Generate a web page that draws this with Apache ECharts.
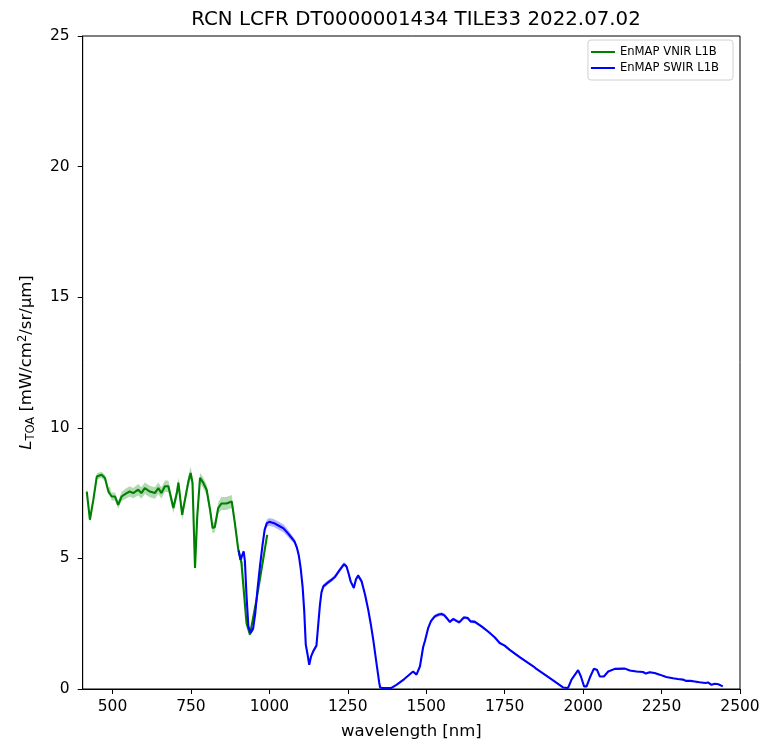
<!DOCTYPE html>
<html>
<head>
<meta charset="utf-8">
<script src="https://cdn.jsdelivr.net/npm/echarts@6/dist/echarts.min.js"></script>
<style>html,body{margin:0;padding:0;background:#fff}#c{width:763px;height:745px}</style>
</head>
<body>
<div id="c"></div>
<script>
// [wavelength nm, L_TOA, band half-width]
const vnir = [[418,7.56,0.12],[428,6.48,0.12],[439,7.25,0.12],[450,8.14,0.12],[465,8.2,0.12],[476,8.08,0.12],[487,7.56,0.12],[492,7.63,0.12],[497,7.37,0.15],[508,7.37,0.15],[518,7.05,0.15],[529,7.37,0.18],[545,7.5,0.2],[555,7.56,0.2],[566,7.5,0.2],[582,7.63,0.22],[592,7.5,0.22],[603,7.69,0.22],[619,7.56,0.22],[635,7.5,0.22],[646,7.69,0.22],[656,7.5,0.22],[667,7.76,0.22],[678,7.76,0.22],[694,6.93,0.2],[705,7.5,0.2],[710,7.9,0.2],[722,6.67,0.2],[731,7.25,0.2],[742,7.95,0.22],[749,8.27,0.25],[755,7.9,0.2],[763,4.63,0.12],[770,6.6,0.15],[779,8.08,0.2],[789,7.9,0.2],[800,7.63,0.2],[811,6.86,0.2],[819,6.16,0.2],[826,6.2,0.2],[837,6.93,0.22],[847,7.1,0.25],[863,7.1,0.25],[880,7.18,0.25],[890,6.35,0.15],[901,5.33,0.12],[911,4.82,0.12],[917,4.76,0.1],[927,2.53,0.08],[938,2.08,0.08],[959,3.42,0.08],[980,4.95,0.08],[993,5.9,0.08]];
const swir = [[902,5.3,0.08],[908,4.95,0.08],[913,5.0,0.08],[918,5.27,0.08],[922,4.9,0.08],[927,3.6,0.08],[933,2.4,0.08],[940,2.15,0.08],[948,2.3,0.08],[955,2.9,0.08],[962,3.8,0.1],[970,4.7,0.1],[978,5.5,0.1],[985,6.1,0.12],[992,6.35,0.14],[1000,6.4,0.15],[1015,6.35,0.15],[1030,6.25,0.15],[1045,6.15,0.15],[1060,5.95,0.14],[1070,5.8,0.12],[1080,5.65,0.1],[1088,5.4,0.1],[1094,5.1,0.1],[1100,4.6,0.08],[1106,3.9,0.08],[1111,3.0,0.06],[1116,1.7,0.06],[1122,1.3,0.05],[1127,0.93,0.05],[1133,1.25,0.05],[1140,1.45,0.05],[1150,1.66,0.05],[1156,2.5,0.06],[1161,3.2,0.06],[1166,3.7,0.08],[1172,3.93,0.08],[1187,4.08,0.08],[1200,4.2,0.08],[1209,4.29,0.08],[1225,4.57,0.08],[1238,4.78,0.08],[1246,4.69,0.08],[1253,4.4,0.08],[1259,4.12,0.08],[1269,3.87,0.08],[1276,4.2,0.08],[1283,4.34,0.08],[1294,4.12,0.08],[1305,3.61,0.07],[1315,3.04,0.06],[1323,2.5,0.05],[1331,1.89,0.05],[1342,0.93,0.04],[1350,0.25,0.03],[1353,0.06,0.02],[1360,0.04,0.02],[1389,0.04,0.02],[1405,0.16,0.02],[1430,0.38,0.03],[1458,0.67,0.03],[1469,0.55,0.03],[1480,0.87,0.04],[1490,1.6,0.05],[1496,1.85,0.06],[1506,2.33,0.06],[1515,2.6,0.07],[1527,2.78,0.07],[1540,2.85,0.07],[1549,2.87,0.07],[1558,2.82,0.07],[1565,2.72,0.07],[1575,2.57,0.06],[1586,2.68,0.06],[1595,2.62,0.06],[1605,2.55,0.06],[1620,2.74,0.06],[1632,2.72,0.06],[1641,2.59,0.06],[1655,2.57,0.06],[1676,2.4,0.05],[1697,2.2,0.05],[1718,1.98,0.05],[1734,1.76,0.05],[1750,1.66,0.04],[1766,1.5,0.04],[1800,1.2,0.04],[1841,0.87,0.03],[1850,0.78,0.03],[1894,0.42,0.03],[1936,0.06,0.02],[1952,0.04,0.02],[1963,0.36,0.02],[1984,0.72,0.03],[1993,0.48,0.02],[2003,0.1,0.02],[2011,0.1,0.02],[2023,0.48,0.02],[2034,0.77,0.03],[2044,0.74,0.03],[2053,0.48,0.02],[2066,0.48,0.02],[2080,0.67,0.03],[2101,0.77,0.03],[2133,0.78,0.03],[2149,0.71,0.03],[2170,0.67,0.03],[2191,0.65,0.03],[2200,0.59,0.03],[2212,0.64,0.03],[2228,0.61,0.03],[2244,0.55,0.03],[2265,0.46,0.02],[2286,0.41,0.02],[2302,0.38,0.02],[2318,0.36,0.02],[2329,0.31,0.02],[2342,0.31,0.02],[2356,0.29,0.02],[2361,0.23,0.02],[2371,0.26,0.02],[2390,0.23,0.02],[2398,0.25,0.02],[2409,0.16,0.02],[2420,0.2,0.02],[2431,0.18,0.02],[2445,0.1,0.02]];
const xTicks = [500,750,1000,1250,1500,1750,2000,2250,2500];
const titleText = 'RCN LCFR DT0000001434 TILE33 2022.07.02';
const seriesNames = ['EnMAP VNIR L1B','EnMAP SWIR L1B'];

const FONT = 'DejaVu Sans';
const chart = echarts.init(document.getElementById('c'), null, {renderer:'canvas'});

function bandSeries(data, color) {
  return {
    type:'custom', silent:true, z:1, clip:true,
    data:data.map(d=>[d[0], d[1]]),
    encode:{x:0, y:1},
    renderItem:function(params, api){
      if (params.dataIndex !== 0) return null;
      const upper = data.map(d=>api.coord([d[0], d[1]+d[2]]));
      const lower = data.slice().reverse().map(d=>api.coord([d[0], d[1]-d[2]]));
      return {type:'polygon', shape:{points:upper.concat(lower)}, style:{fill:color, opacity:0.3}};
    }
  };
}

const option = {
  animation:false,
  backgroundColor:'#fff',
  textStyle:{fontFamily:FONT},
  title:{text:titleText, left:411, top:5, textAlign:'center',
    textStyle:{fontFamily:FONT, fontSize:19.8, fontWeight:'normal', color:'#000'}},
  grid:{left:82.7, right:23, top:36, bottom:55.7, containLabel:false, show:true, borderColor:'#000', borderWidth:1, backgroundColor:'transparent'},
  legend:{
    data:[{name:seriesNames[0]},{name:seriesNames[1]}],
    orient:'vertical', right:30, top:40,
    icon:'rect', itemWidth:24, itemHeight:2, itemGap:2,
    padding:[5,14,5,3],
    borderColor:'#d0d0d0', borderWidth:1, borderRadius:3, backgroundColor:'#fff',
    textStyle:{fontFamily:FONT, fontSize:11.6, color:'#000', lineHeight:14}
  },
  xAxis:{
    type:'value', min:405, max:2500,
    name:'wavelength [nm]', nameLocation:'middle', nameGap:34,
    nameTextStyle:{fontFamily:FONT, fontSize:16.5, color:'#000'},
    axisLine:{show:true, lineStyle:{color:'#000', width:1}},
    axisTick:{show:true, inside:false, length:5, lineStyle:{color:'#000'}, customValues:xTicks},
    axisLabel:{show:true, margin:10, fontFamily:FONT, fontSize:15.5, color:'#000', customValues:xTicks, formatter:v=>String(v)},
    splitLine:{show:false}
  },
  yAxis:{
    type:'value', min:0, max:25, interval:5,
    name:'{i|L}{sub|TOA}{n| [mW/cm}{sup|2}{n|/sr/μm]}', nameLocation:'middle', nameGap:46, nameRotate:90,
    nameTextStyle:{fontFamily:FONT, fontSize:16.5, color:'#000',
      rich:{
        i:{fontFamily:FONT, fontSize:16.5, fontStyle:'italic', color:'#000', lineHeight:20, verticalAlign:'middle'},
        n:{fontFamily:FONT, fontSize:16.5, color:'#000', lineHeight:20, verticalAlign:'middle'},
        sub:{fontFamily:FONT, fontSize:11.5, color:'#000', lineHeight:20, verticalAlign:'bottom'},
        sup:{fontFamily:FONT, fontSize:11.5, color:'#000', lineHeight:20, verticalAlign:'top'}
      }},
    axisLine:{show:true, lineStyle:{color:'#000', width:1}},
    axisTick:{show:true, inside:false, length:5, lineStyle:{color:'#000'}},
    axisLabel:{show:true, margin:13, fontFamily:FONT, fontSize:15.5, color:'#000'},
    splitLine:{show:false}
  },
  series:[
    bandSeries(vnir, '#008000'),
    bandSeries(swir, '#0000ff'),
    {type:'line', name:seriesNames[0], data:vnir.map(d=>[d[0],d[1]]), showSymbol:false, symbol:'none',
     color:'#008000', lineStyle:{color:'#008000', width:2.1}, z:3},
    {type:'line', name:seriesNames[1], data:swir.map(d=>[d[0],d[1]]), showSymbol:false, symbol:'none',
     color:'#0000ff', lineStyle:{color:'#0000ff', width:2.1}, z:4}
  ]
};
chart.setOption(option);
</script>
</body>
</html>
